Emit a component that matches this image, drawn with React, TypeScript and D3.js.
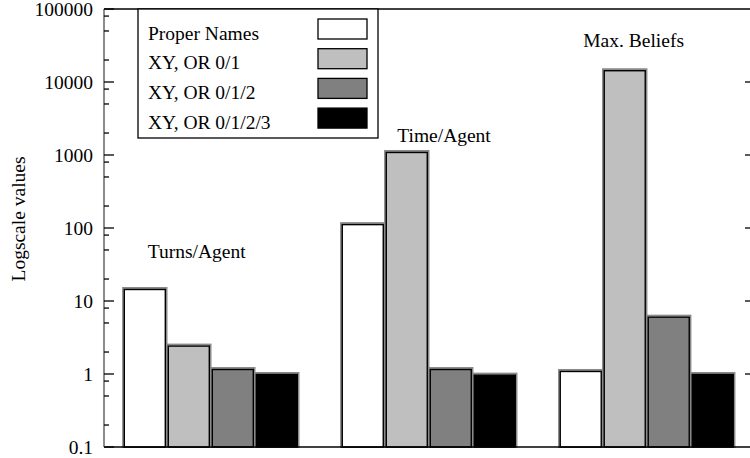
import React from "react";
import * as d3 from "d3";

// Measured quantities, one group per metric
const categories = ["Turns/Agent", "Time/Agent", "Max. Beliefs"];
const seriesNames = ["Proper Names", "XY, OR 0/1", "XY, OR 0/1/2", "XY, OR 0/1/2/3"];
const seriesColors = ["#ffffff", "#bfbfbf", "#808080", "#000000"];

// values[series][category]
const properNames = [14.6, 113, 1.1];
const xyOr01 = [2.45, 1100, 14500];
const xyOr012 = [1.17, 1.17, 6.1];
const xyOr0123 = [1.0, 0.98, 1.0];
const seriesValues = [properNames, xyOr01, xyOr012, xyOr0123];

// Category label anchors in data coordinates (group index, value)
const labelGroupPos = [-0.065, 1.07, 1.94];
const labelValuePos = [39, 1500, 30000];

const yTickValues = [0.1, 1, 10, 100, 1000, 10000, 100000];
const yTickLabels = ["0.1", "1", "10", "100", "1000", "10000", "100000"];
const minorFactors = [2, 5, 8];

const W = 750;
const H = 458;
const FONT = "'Liberation Serif', 'Times New Roman', 'DejaVu Serif', serif";
const FS = 19.5;

export default function App() {
  const left = 104;
  const right = 750;
  const top = 9;
  const bottom = 447;

  const y = d3.scaleLog().domain([0.1, 100000]).range([bottom, top]);
  const x = d3.scaleLinear().domain([-0.49, 2.46]).range([left, 747]);
  const barW = 44;
  const nS = seriesValues.length;

  const minorTicks: number[] = [];
  yTickValues.slice(0, -1).forEach((d) => {
    minorFactors.forEach((f) => minorTicks.push(d * f));
  });

  const legendX = 138;
  const legendY = top;
  const legendW = 240;
  const legendH = 129;
  const rowH = 29.7;

  return (
    <div style={{ position: "absolute", left: 0, top: 0 }}>
      <svg width={W} height={H} style={{ display: "block", background: "#fff" }} fontFamily={FONT}>
        {/* bars: grey offset outline behind a black-bordered fill */}
        {categories.map((c, ci) =>
          seriesValues.map((vals, si) => {
            const x0 = x(ci) + (si - nS / 2) * barW;
            const yTop = y(vals[ci]);
            const h = y(0.1) - yTop;
            return (
              <g key={`${ci}-${si}`}>
                <rect
                  x={x0 + 0.3}
                  y={yTop - 1}
                  width={barW - 0.6}
                  height={h + 1}
                  fill="none"
                  stroke="#8a8a8a"
                  strokeWidth={2}
                />
                <rect
                  x={x0 + 1.5}
                  y={yTop + 0.5}
                  width={barW - 3}
                  height={h - 0.5}
                  fill={seriesColors[si]}
                  stroke="#000"
                  strokeWidth={1.4}
                />
              </g>
            );
          })
        )}

        {/* frame */}
        <line x1={left} x2={right} y1={top} y2={top} stroke="#000" strokeWidth={1.5} />
        <line x1={left} x2={right} y1={bottom} y2={bottom} stroke="#000" strokeWidth={1.5} />
        <line x1={left} x2={left} y1={top} y2={bottom} stroke="#666" strokeWidth={1.5} />

        {/* left ticks */}
        {yTickValues.map((t) => (
          <line key={`M${t}`} x1={left} x2={left + 10} y1={y(t)} y2={y(t)} stroke="#000" strokeWidth={1.3} />
        ))}
        {minorTicks.map((t) => (
          <line key={`m${t}`} x1={left} x2={left + 5} y1={y(t)} y2={y(t)} stroke="#000" strokeWidth={1.3} />
        ))}
        {/* right ticks */}
        {yTickValues.slice(1, -1).map((t) => (
          <line key={`R${t}`} x1={right - 5} x2={right} y1={y(t)} y2={y(t)} stroke="#000" strokeWidth={1.3} />
        ))}

        {/* tick labels */}
        {yTickValues.map((t, i) => (
          <text key={`L${t}`} x={93} y={y(t)} dy="0.34em" textAnchor="end" fontSize={FS} fill="#000">
            {yTickLabels[i]}
          </text>
        ))}

        {/* y axis title */}
        <text
          transform={`translate(25, 219) rotate(-90)`}
          textAnchor="middle"
          fontSize={FS}
          fill="#000"
        >
          Logscale values
        </text>

        {/* category labels */}
        {categories.map((c, ci) => (
          <text
            key={c}
            x={x(labelGroupPos[ci])}
            y={y(labelValuePos[ci])}
            textAnchor="middle"
            fontSize={FS}
            fill="#000"
          >
            {c}
          </text>
        ))}

        {/* legend */}
        <rect x={legendX} y={legendY} width={legendW} height={legendH} fill="#fff" stroke="#000" strokeWidth={1.3} />
        {seriesNames.map((name, si) => {
          const sy = legendY + 10 + si * rowH;
          return (
            <g key={name}>
              <text x={legendX + 10} y={sy + 20.5} fontSize={FS} fill="#000">
                {name}
              </text>
              <rect
                x={legendX + 180}
                y={sy}
                width={49}
                height={20}
                fill={seriesColors[si]}
                stroke="#000"
                strokeWidth={1.3}
              />
            </g>
          );
        })}
      </svg>
    </div>
  );
}
